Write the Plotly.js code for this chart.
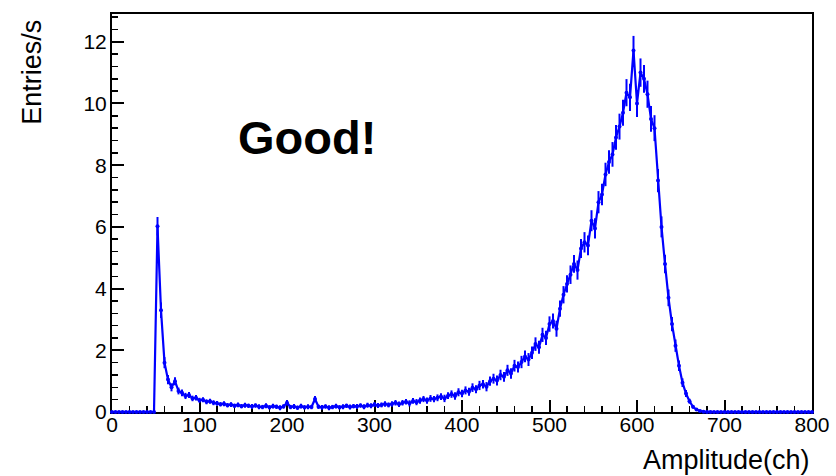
<!DOCTYPE html>
<html>
<head>
<meta charset="utf-8">
<script src="https://cdn.plot.ly/plotly-3.0.1.min.js"></script>
<style>html,body{margin:0;padding:0;background:#fff;}#chart{width:836px;height:476px;}</style>
</head>
<body>
<div id="chart"></div>
<script>
// Histogram: rate per channel (4-channel sampling of the spectrum)
const channelStart = 0, channelStep = 4, channelEnd = 800;
const rates = [
  0,0,0,0,0,0,0,0,0,0,
  0,0,0,6.02,3.3,1.6,1.05,0.8,1.0,0.68,
  0.62,0.52,0.55,0.44,0.46,0.38,0.4,0.33,0.35,0.3,
  0.28,0.25,0.27,0.22,0.24,0.2,0.23,0.19,0.22,0.2,
  0.18,0.21,0.17,0.16,0.2,0.15,0.19,0.17,0.14,0.18,
  0.3,0.16,0.18,0.14,0.19,0.15,0.17,0.16,0.42,0.17,
  0.15,0.18,0.14,0.16,0.19,0.15,0.17,0.2,0.16,0.19,
  0.18,0.21,0.17,0.22,0.2,0.24,0.21,0.23,0.26,0.23,
  0.26,0.3,0.25,0.3,0.33,0.28,0.36,0.32,0.37,0.42,
  0.37,0.44,0.42,0.46,0.5,0.44,0.53,0.58,0.52,0.64,
  0.6,0.7,0.66,0.79,0.74,0.86,0.9,0.82,1.0,1.08,
  1.02,1.2,1.14,1.35,1.25,1.5,1.46,1.62,1.8,1.7,
  1.92,2.2,2.1,2.5,2.4,2.85,2.95,2.7,3.35,3.8,
  4.15,4.45,4.8,4.6,5.3,5.5,5.4,6.2,5.95,6.8,
  7.05,7.7,8.1,8.35,8.9,9.25,9.7,10.35,10.2,11.72,
  10.0,11.0,10.8,10.3,9.5,9.2,7.5,6.0,4.8,3.7,
  2.85,2.15,1.5,0.95,0.6,0.35,0.17,0.08,0.03,0.01,
  0,0,0,0,0,0,0,0,0,0,
  0,0,0,0,0,0,0,0,0,0,
  0,0,0,0,0,0,0,0,0,0,
  0
];
const rateErrors = [
  0,0,0,0,0,0,0,0,0,0,
  0,0,0,0.3,0.25,0.18,0.15,0.13,0.13,0.11,
  0.11,0.1,0.1,0.09,0.09,0.08,0.08,0.08,0.08,0.08,
  0.08,0.07,0.08,0.07,0.08,0.07,0.08,0.07,0.08,0.07,
  0.08,0.07,0.08,0.07,0.08,0.07,0.08,0.07,0.08,0.07,
  0.09,0.07,0.08,0.07,0.08,0.07,0.08,0.07,0.1,0.07,
  0.08,0.07,0.08,0.07,0.08,0.07,0.08,0.07,0.08,0.07,
  0.08,0.07,0.08,0.08,0.08,0.08,0.08,0.08,0.09,0.08,
  0.09,0.09,0.09,0.09,0.09,0.1,0.09,0.1,0.1,0.1,
  0.1,0.11,0.1,0.11,0.11,0.12,0.11,0.12,0.12,0.13,
  0.12,0.13,0.13,0.14,0.13,0.15,0.14,0.15,0.15,0.16,
  0.16,0.17,0.16,0.18,0.17,0.19,0.18,0.2,0.19,0.21,
  0.2,0.22,0.21,0.23,0.23,0.25,0.24,0.26,0.26,0.28,
  0.28,0.3,0.29,0.31,0.31,0.33,0.32,0.34,0.33,0.36,
  0.35,0.38,0.38,0.4,0.4,0.42,0.42,0.44,0.44,0.47,
  0.44,0.46,0.45,0.44,0.42,0.42,0.38,0.34,0.3,0.27,
  0.23,0.2,0.17,0.14,0.11,0.08,0.06,0.04,0.02,0.01,
  0,0,0,0,0,0,0,0,0,0,
  0,0,0,0,0,0,0,0,0,0,
  0,0,0,0,0,0,0,0,0,0,
  0
];
const channels = [];
for (let c = channelStart; c <= channelEnd; c += channelStep) channels.push(c);

const xTitle = "Amplitude(ch)";
const yTitle = "Entries/s";
const label = "Good!";

const tickFont = {family: "Liberation Sans, Arial, sans-serif", size: 21, color: "#000"};
const titleFont = {family: "Liberation Sans, Arial, sans-serif", size: 27, color: "#000"};

const trace = {
  x: channels, y: rates, type: "scatter", mode: "lines+markers",
  line: {color: "#0000ff", width: 2.2},
  marker: {color: "#0000ff", size: 4},
  error_y: {type: "data", array: rateErrors, visible: true, color: "#0000ff", thickness: 2, width: 0},
  cliponaxis: false, hoverinfo: "skip"
};

const layout = {
  width: 836, height: 476,
  margin: {l: 112, r: 24, t: 14, b: 64},
  paper_bgcolor: "#fff", plot_bgcolor: "#fff",
  showlegend: false,
  xaxis: {
    range: [0, 800], dtick: 100, tick0: 0,
    ticks: "inside", ticklen: 12, tickwidth: 2, tickcolor: "#000",
    minor: {dtick: 20, ticks: "inside", ticklen: 6, tickwidth: 1.5, tickcolor: "#000"},
    showline: true, linewidth: 2, linecolor: "#000", mirror: true,
    showgrid: false, zeroline: false, layer: "below traces",
    tickfont: tickFont, ticklabelstandoff: -7
  },
  yaxis: {
    range: [0, 12.9], dtick: 2, tick0: 0,
    ticks: "inside", ticklen: 12, tickwidth: 2, tickcolor: "#000",
    minor: {dtick: 0.4, ticks: "inside", ticklen: 6, tickwidth: 1.5, tickcolor: "#000"},
    showline: true, linewidth: 2, linecolor: "#000", mirror: true,
    showgrid: false, zeroline: false, layer: "below traces",
    tickfont: tickFont, ticklabelstandoff: -1
  },
  annotations: [
    {text: xTitle, xref: "paper", yref: "paper", x: 1.0, y: -0.12, xanchor: "right", yanchor: "middle",
     showarrow: false, font: titleFont},
    {text: yTitle, xref: "paper", yref: "paper", x: -0.114, y: 0.99, xanchor: "center", yanchor: "top",
     textangle: -90, showarrow: false, font: titleFont},
    {text: "<b>" + label + "</b>", xref: "paper", yref: "paper", x: 0.177, y: 0.69, xanchor: "left", yanchor: "middle",
     showarrow: false, font: {family: "Liberation Sans, Arial, sans-serif", size: 47, color: "#000"}}
  ]
};

Plotly.newPlot("chart", [trace], layout, {staticPlot: true, displayModeBar: false});
</script>
</body>
</html>
